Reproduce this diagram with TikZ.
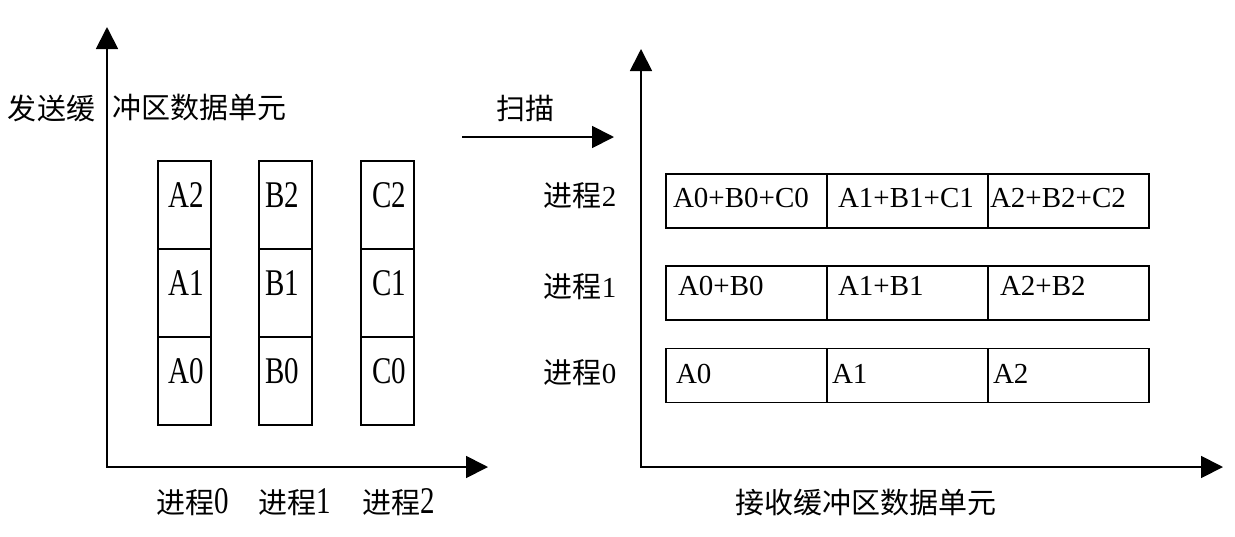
\documentclass[tikz,border=0pt]{standalone}
\usepackage{fontspec}
\setmainfont{Liberation Serif}
\newfontfamily\cjk{Noto Sans CJK SC}
\usepackage{graphicx}
\usetikzlibrary{arrows.meta}
\usetikzlibrary{positioning}

\newcommand{\zh}[1]{{\cjk #1}}
\newcommand{\tall}[1]{\scalebox{1}[1.3]{#1}}

\begin{document}
\begin{tikzpicture}[x=0.5pt, y=-0.5pt,
  every node/.style={font=\fontsize{14.5}{17}\selectfont, inner sep=0pt, outer sep=0pt},
  axis/.style={line width=0.9pt, {Triangle[length=11pt, width=11pt]}-{Triangle[length=11pt, width=11pt]}},
  scan/.style={line width=0.9pt, -{Triangle[length=11pt, width=11pt]}},
  lcell/.style={draw, line width=0.9pt, minimum width=26.5pt, minimum height=44pt},
  rcell/.style={draw, line width=0.9pt, minimum width=80.5pt, minimum height=27pt},
  val/.style={anchor=base},
  lval/.style={anchor=base west}]

\useasboundingbox (0,0) rectangle (1235,536);

% send side axes
\coordinate (sy) at (107,27);
\coordinate (sx) at (488,467);
\draw[axis] (sy) |- (sx);

\node (send1) at (51.5,108) {\zh{发送缓}};
\node (send2) at (199.5,108) {\zh{冲区数据单元}};

% send buffers
\node[lcell] (a2) at (184.5,205) {};
\node[lcell, below=0pt of a2] (a1) {};
\node[lcell, below=0pt of a1] (a0) {};
\node[lcell] (b2) at (285.5,205) {};
\node[lcell, below=0pt of b2] (b1) {};
\node[lcell, below=0pt of b1] (b0) {};
\node[lcell] (c2) at (387.5,205) {};
\node[lcell, below=0pt of c2] (c1) {};
\node[lcell, below=0pt of c1] (c0) {};

\node[val] (ta2) at ([xshift=0.75pt, yshift=-1pt]a2.center) {\tall{A2}};
\node[val] (ta1) at ([xshift=0.75pt, yshift=-1pt]a1.center) {\tall{A1}};
\node[val] (ta0) at ([xshift=0.75pt, yshift=-1pt]a0.center) {\tall{A0}};
\node[lval] (tb2) at ([xshift=3pt, yshift=-1pt]b2.west) {\tall{B2}};
\node[lval] (tb1) at ([xshift=3pt, yshift=-1pt]b1.west) {\tall{B1}};
\node[lval] (tb0) at ([xshift=3pt, yshift=-1pt]b0.west) {\tall{B0}};
\node[val] (tc2) at ([xshift=1pt, yshift=-1pt]c2.center) {\tall{C2}};
\node[val] (tc1) at ([xshift=1pt, yshift=-1pt]c1.center) {\tall{C1}};
\node[val] (tc0) at ([xshift=1pt, yshift=-1pt]c0.center) {\tall{C0}};

\node (sp0) at (192.5,502) {\zh{进程}\tall{0}};
\node (sp1) at (294.5,502) {\zh{进程}\tall{1}};
\node (sp2) at (399,502) {\zh{进程}\tall{2}};

% scan
\coordinate (scan0) at (462,137);
\coordinate (scan1) at (614,137);
\draw[scan] (scan0) -- (scan1);
\node (scanlbl) at (525.5,108) {\zh{扫描}};

% receive side axes
\coordinate (ry) at (641,49);
\coordinate (rx) at (1223,467);
\draw[axis] (ry) |- (rx);

\node (recv) at (866,502) {\zh{接收缓冲区数据单元}};

% receive buffers
\node[rcell] (p2a) at (746.5,201) {};
\node[rcell, right=0pt of p2a] (p2b) {};
\node[rcell, right=0pt of p2b] (p2c) {};
\node[rcell] (p1a) at (746.5,293) {};
\node[rcell, right=0pt of p1a] (p1b) {};
\node[rcell, right=0pt of p1b] (p1c) {};
\node[rcell] (p0a) at (746.5,375.5) {};
\node[rcell, right=0pt of p0a] (p0b) {};
\node[rcell, right=0pt of p0b] (p0c) {};

\node[lval] (s2a) at ([xshift=3.5pt, yshift=-3pt]p2a.west) {A0+B0+C0};
\node[lval] (s2b) at ([xshift=5.5pt, yshift=-3pt]p2b.west) {A1+B1+C1};
\node[lval] (s2c) at ([xshift=1pt, yshift=-3pt]p2c.west) {A2+B2+C2};
\node[lval] (s1a) at ([xshift=6pt, yshift=-1pt]p1a.west) {A0+B0};
\node[lval] (s1b) at ([xshift=5.5pt, yshift=-1pt]p1b.west) {A1+B1};
\node[lval] (s1c) at ([xshift=6pt, yshift=-1pt]p1c.west) {A2+B2};
\node[lval] (s0a) at ([xshift=5pt, yshift=-3.75pt]p0a.west) {A0};
\node[lval] (s0b) at ([xshift=2.5pt, yshift=-3.75pt]p0b.west) {A1};
\node[lval] (s0c) at ([xshift=2.5pt, yshift=-3.75pt]p0c.west) {A2};

\node (rp2) at (580,196) {\zh{进程}2};
\node (rp1) at (580,287) {\zh{进程}1};
\node (rp0) at (580,373) {\zh{进程}0};
\end{tikzpicture}
\end{document}
